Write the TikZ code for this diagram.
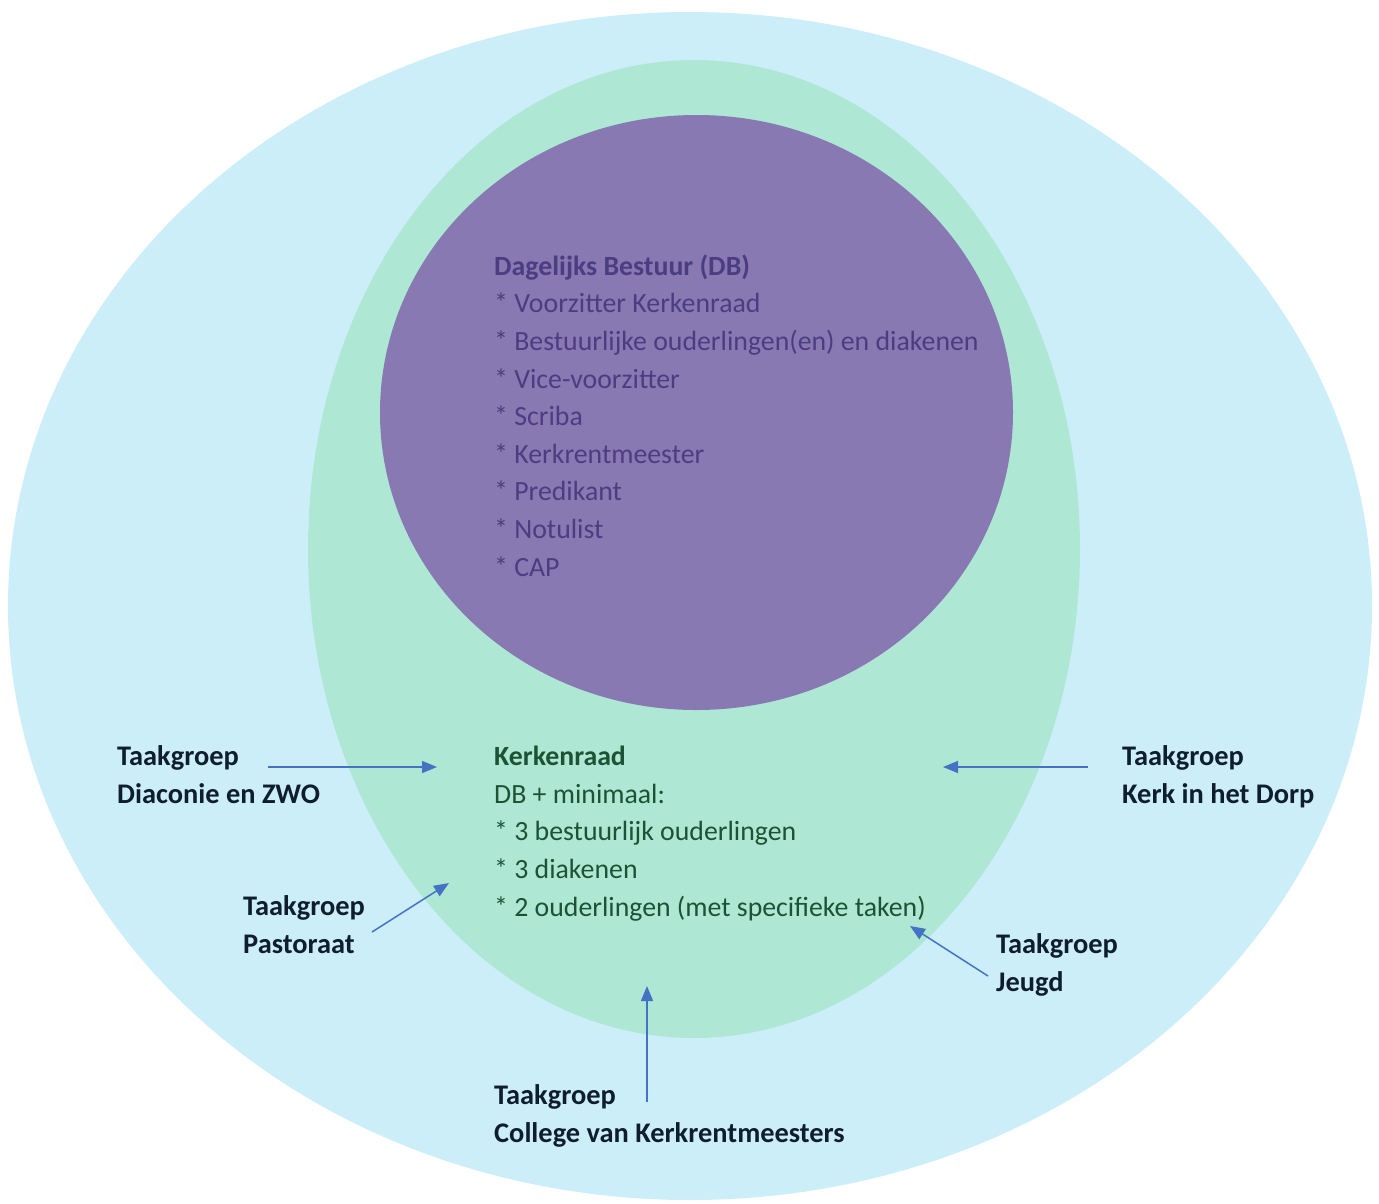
\documentclass[tikz,border=0pt]{standalone}
\usepackage{fontspec}
\setmainfont{Carlito}
\usetikzlibrary{arrows.meta}
\definecolor{outerblue}{HTML}{CCEEF9}
\definecolor{midgreen}{HTML}{AEE8D4}
\definecolor{innerpurple}{HTML}{8879B3}
\definecolor{dbtext}{HTML}{4B3D82}
\definecolor{krtext}{HTML}{1D5234}
\definecolor{tgtext}{HTML}{0F1E2E}
\definecolor{arrowblue}{HTML}{4472C4}
\tikzset{
  txt/.style={anchor=base west, inner sep=0pt, align=left, font=\fontsize{27.8}{37.6}\selectfont},
  dbtxt/.style={txt, text=dbtext},
  krtxt/.style={txt, text=krtext},
  tgtxt/.style={txt, text=tgtext, font=\fontsize{28.4}{37.6}\selectfont\bfseries},
  link/.style={draw=arrowblue, line width=1.5pt, -{Triangle[length=15pt,width=12pt]}}
}
\begin{document}
\begin{tikzpicture}[x=1pt,y=-1pt]
\useasboundingbox[fill=white] (0,0) rectangle (1379,1203);
\fill[outerblue] (690,606) ellipse [x radius=682pt, y radius=594pt];
\fill[midgreen] (694,549) ellipse [x radius=386pt, y radius=489pt];
\fill[innerpurple] (696.5,412.5) ellipse [x radius=316.5pt, y radius=297.5pt];

% anchor base west = baseline of the last line
\node[dbtxt] (db) at (494,576) {\textbf{Dagelijks Bestuur (DB)}\\
* Voorzitter Kerkenraad\\
* Bestuurlijke ouderlingen(en) en diakenen\\
* Vice-voorzitter\\
* Scriba\\
* Kerkrentmeester\\
* Predikant\\
* Notulist\\
* CAP};

\node[krtxt] (kr) at (494,916) {\textbf{Kerkenraad}\\
DB + minimaal:\\
* 3 bestuurlijk ouderlingen\\
* 3 diakenen\\
* 2 ouderlingen (met specifieke taken)};

\node[tgtxt] (diac) at (117,803) {Taakgroep\\Diaconie en ZWO};
\node[tgtxt] (kid) at (1122,803) {Taakgroep\\Kerk in het Dorp};
\node[tgtxt] (past) at (243,953) {Taakgroep\\Pastoraat};
\node[tgtxt] (jeugd) at (996,991) {Taakgroep\\Jeugd};
\node[tgtxt] (ckm) at (494,1142) {Taakgroep\\College van Kerkrentmeesters};

\coordinate (diacS) at (268,767);
\coordinate (diacE) at (437,767);
\coordinate (kidS) at (1088,767);
\coordinate (kidE) at (943,767);
\coordinate (pastS) at (372,932);
\coordinate (pastE) at (449,883);
\coordinate (jeugdS) at (988,976);
\coordinate (jeugdE) at (910,926);
\coordinate (ckmS) at (647,1102);
\coordinate (ckmE) at (647,986);

\draw[link] (diacS) -- (diacE);
\draw[link] (kidS) -- (kidE);
\draw[link] (pastS) -- (pastE);
\draw[link] (jeugdS) -- (jeugdE);
\draw[link] (ckmS) -- (ckmE);
\end{tikzpicture}
\end{document}
